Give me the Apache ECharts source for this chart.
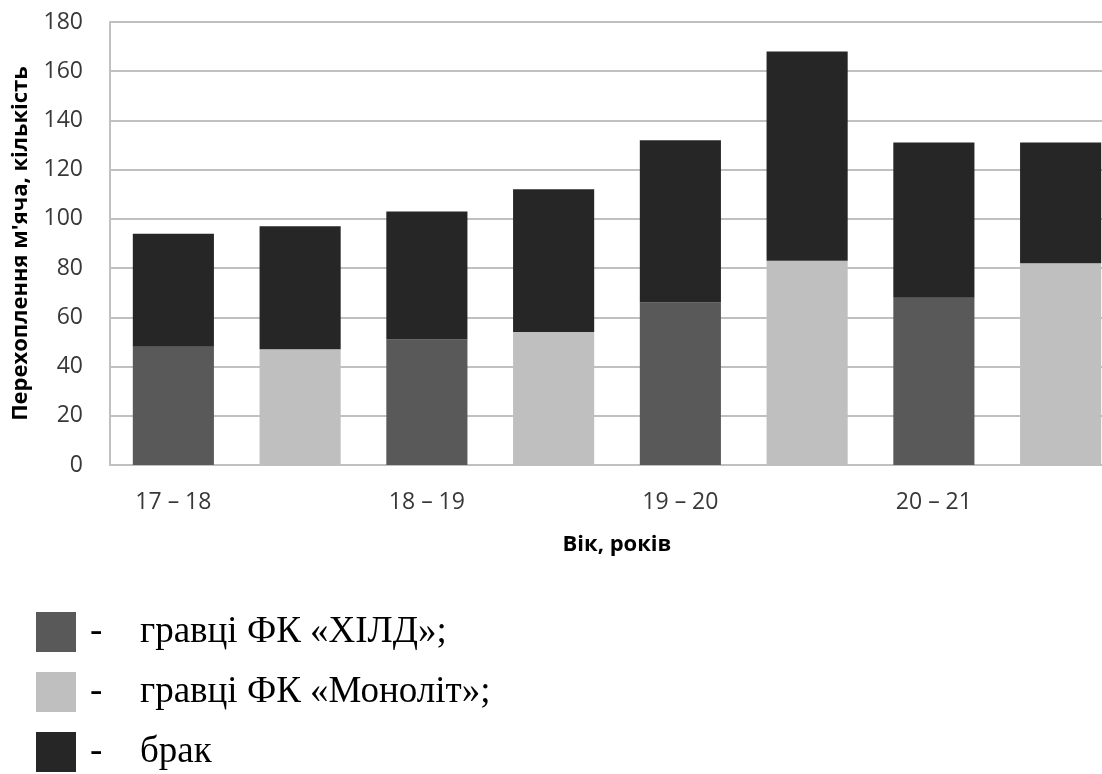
<!DOCTYPE html>
<html>
<head>
<meta charset="utf-8">
<script src="https://cdn.jsdelivr.net/npm/echarts@6/dist/echarts.min.js"></script>
<style>
  html, body { margin: 0; padding: 0; background: #fff; overflow: hidden; }
  /* the plot runs past the right edge of the picture, so the canvas is wider than the window */
  #chart { width: 1124px; height: 774px; }
</style>
</head>
<body>
<div id="chart"></div>
<script>
// age groups, each has two bars (ХІЛД, Моноліт)
var ageGroups = ['17 – 18', '18 – 19', '19 – 20', '20 – 21']
var teams = ['ХІЛД', 'Моноліт']
var seriesNames = ['гравці ФК «ХІЛД»', 'гравці ФК «Моноліт»', 'брак']

// '-' where the bar belongs to the other team
var hildValues = [48, '-', 51, '-', 66, '-', 68, '-']
var monolitValues = ['-', 47, '-', 54, '-', 83, '-', 82]
var brakValues = [46, 50, 52, 58, 66, 85, 63, 49]

var yTicks = { min: 0, max: 180, interval: 20 }

var categories = []
ageGroups.forEach(function (a) {
  teams.forEach(function (t) { categories.push(a + ' ' + t) })
})

var colors = ['#595959', '#bfbfbf', '#262626']
var gridGray = '#c0c0c0'

var chart = echarts.init(document.getElementById('chart'))

chart.setOption({
  animation: false,
  color: colors,
  grid: {
    left: 110,
    top: 22,
    right: 0,
    bottom: 309
  },
  legend: {
    orient: 'vertical',
    left: 36,
    top: 612,
    padding: 0,
    itemWidth: 40,
    itemHeight: 40,
    itemGap: 20,
    icon: 'rect',
    data: seriesNames,
    formatter: function (name) {
      var i = seriesNames.indexOf(name)
      var tail = i < seriesNames.length - 1 ? ';' : ''
      return '{d|-}{t|' + name + tail + '}'
    },
    textStyle: {
      fontFamily: 'Liberation Serif',
      fontSize: 37,
      color: '#000',
      rich: {
        d: { fontFamily: 'Liberation Serif', fontSize: 37, width: 50, padding: [0, 0, 0, 9], color: '#000' },
        t: { fontFamily: 'Liberation Serif', fontSize: 37, color: '#000' }
      }
    }
  },
  xAxis: {
    type: 'category',
    data: categories,
    name: 'Вік, років',
    nameLocation: 'middle',
    nameGap: 69,
    nameTextStyle: {
      fontFamily: 'Open Sans',
      fontWeight: 'bold',
      fontSize: 22,
      color: '#000'
    },
    axisLine: { lineStyle: { color: gridGray, width: 2 } },
    axisTick: { show: false },
    axisLabel: {
      interval: 0,
      margin: 26,
      fontFamily: 'Open Sans',
      fontSize: 23,
      color: '#383838',
      formatter: function (v, idx) {
        return idx % 2 === 0 ? ageGroups[idx / 2] : ''
      }
    }
  },
  yAxis: {
    type: 'value',
    min: yTicks.min,
    max: yTicks.max,
    interval: yTicks.interval,
    name: 'Перехоплення м\'яча, кількість',
    nameLocation: 'middle',
    nameGap: 78,
    nameTextStyle: {
      fontFamily: 'Open Sans',
      fontWeight: 'bold',
      fontSize: 22,
      color: '#000'
    },
    axisLine: { show: true, lineStyle: { color: gridGray, width: 2 } },
    axisTick: { show: false },
    axisLabel: {
      margin: 27,
      fontFamily: 'Open Sans',
      fontSize: 23,
      color: '#383838'
    },
    splitLine: { lineStyle: { color: gridGray, width: 2 } }
  },
  series: [{
    name: seriesNames[0],
    type: 'bar',
    stack: 'total',
    barWidth: '64%',
    data: hildValues
  }, {
    name: seriesNames[1],
    type: 'bar',
    stack: 'total',
    barWidth: '64%',
    data: monolitValues
  }, {
    name: seriesNames[2],
    type: 'bar',
    stack: 'total',
    barWidth: '64%',
    data: brakValues
  }]
})
</script>
</body>
</html>
